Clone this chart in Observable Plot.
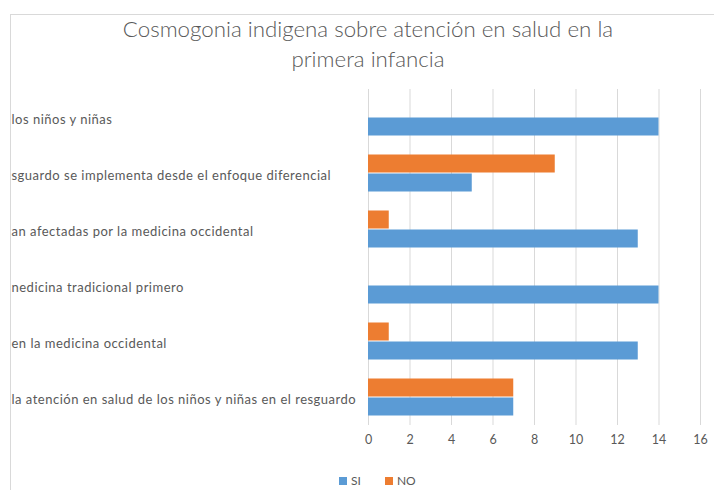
<!DOCTYPE html>
<html><head><meta charset="utf-8">
<script src="https://cdn.jsdelivr.net/npm/d3@7"></script>
<script src="https://cdn.jsdelivr.net/npm/@observablehq/plot@0.6"></script>
<style>
body{margin:0;background:#fff;font-family:Lato,"Open Sans",sans-serif;}
#wrap{position:relative;width:714px;height:490px;overflow:hidden;background:#fff;}
#border{position:absolute;left:10px;top:14px;width:720px;height:500px;border-left:1px solid #d9d9d9;border-top:1px solid #d9d9d9;}
#title{position:absolute;left:0px;width:736px;top:14px;text-align:center;font-size:22.3px;line-height:30px;color:#595959;font-family:Lato,sans-serif;font-weight:300;}
#chart{position:absolute;left:0;top:70px;}
#legend{position:absolute;top:473px;left:339px;font-size:12px;color:#595959;display:flex;align-items:center;}
.sw{display:inline-block;width:8px;height:8px;margin-right:4px;}
.catlab text{letter-spacing:0.5px;}
</style></head>
<body><div id="wrap"><div id="border"></div>
<div id="title">Cosmogonia indigena sobre atención en salud en la<br>primera infancia</div>
<div id="chart"></div>
<div id="legend"><span class="sw" style="background:#5B9BD5"></span><span style="margin-right:24px">SI</span><span class="sw" style="background:#ED7D31"></span><span>NO</span></div>
</div>
<script>
const categories = [
  "los niños y niñas",
  "sguardo se implementa desde el enfoque diferencial",
  "an afectadas por la medicina occidental",
  "nedicina tradicional primero",
  "en la medicina occidental",
  "la atención en salud de los niños y niñas en el resguardo"
];
const series = ["NO", "SI"];
const siValues = [14, 5, 13, 14, 13, 7];
const noValues = [0, 9, 1, 0, 1, 7];
const xTicks = [0, 2, 4, 6, 8, 10, 12, 14, 16];

const rows = [];
categories.forEach((c, i) => {
  rows.push({cat: c, serie: "NO", value: noValues[i]});
  rows.push({cat: c, serie: "SI", value: siValues[i]});
});

const chart = Plot.plot({
  width: 714,
  height: 385,
  marginLeft: 368,
  marginRight: 14,
  marginTop: 16.5,
  marginBottom: 27,
  style: {fontFamily: "Lato, sans-serif", fontSize: "12.5px", color: "#595959", overflow: "visible"},
  x: {domain: [0, 16], ticks: xTicks, label: null},
  y: {domain: series, paddingInner: 0.03, paddingOuter: 0.46, axis: null},
  fy: {domain: categories, padding: 0, axis: null},
  color: {domain: ["SI", "NO"], range: ["#5B9BD5", "#ED7D31"]},
  marks: [
    Plot.gridX(xTicks, {stroke: "#d9d9d9", strokeOpacity: 1, strokeWidth: 1}),
    Plot.barX(rows, {fy: "cat", y: "serie", x: "value", fill: "serie"}),
    Plot.text(categories, {fy: d => d, text: d => d, frameAnchor: "left", textAnchor: "start", dx: -357, dy: 2, fill: "#595959", fontSize: 13, className: "catlab"}),
    Plot.axisX({ticks: xTicks, tickSize: 0, tickPadding: 10, label: null, fill: "#595959"})
  ]
});
d3.select(chart).selectAll("g[aria-label='text'] text").style("letter-spacing", "0.5px");
document.getElementById("chart").appendChild(chart);
</script>
</body></html>
